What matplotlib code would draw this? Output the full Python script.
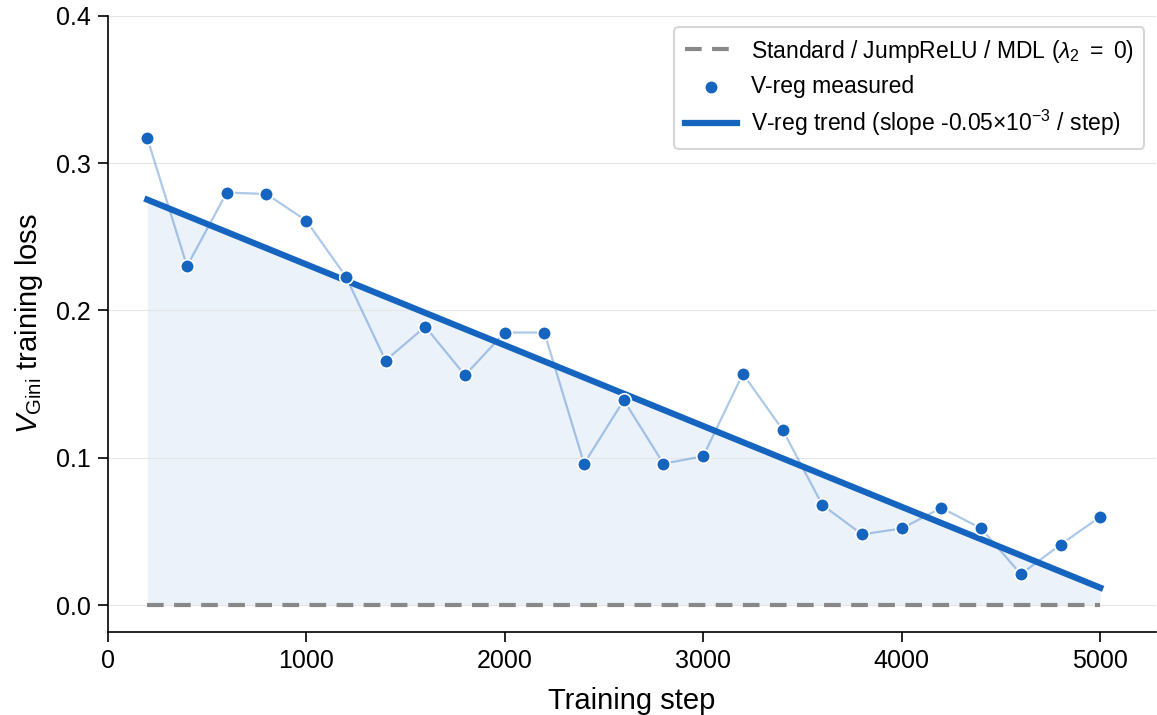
import numpy as np
import matplotlib.pyplot as plt

plt.rcParams['font.family'] = ['Liberation Sans', 'DejaVu Sans']
plt.rcParams['mathtext.fontset'] = 'custom'
plt.rcParams['mathtext.rm'] = 'Liberation Sans'
plt.rcParams['mathtext.it'] = 'Liberation Sans:italic'

# data
steps = [200, 400, 600, 800, 1000, 1200, 1400, 1600, 1800, 2000, 2200, 2400, 2600,
         2800, 3000, 3200, 3400, 3600, 3800, 4000, 4200, 4400, 4600, 4800, 5000]
vgini = [0.317, 0.230, 0.280, 0.279, 0.261, 0.223, 0.166, 0.189, 0.156, 0.185, 0.185,
         0.096, 0.139, 0.096, 0.101, 0.157, 0.119, 0.068, 0.048, 0.052, 0.066, 0.052,
         0.021, 0.041, 0.060]
baseline = [0.0] * len(steps)

blue = '#1565C0'
steps_arr = np.array(steps)
slope, intercept = np.polyfit(steps_arr, vgini, 1)
trend = slope * steps_arr + intercept

fig, ax = plt.subplots(figsize=(11.57, 7.15), dpi=100)
ax.grid(axis='y', color='#e6e6e6', linewidth=0.8, zorder=0)
ax.fill_between(steps_arr, 0, trend, color=blue, alpha=0.08, linewidth=0, zorder=1)
ax.plot(steps, baseline, color='#888888', linestyle=(0, (4, 2.5)), linewidth=3,
        label=r'Standard / JumpReLU / MDL ($\lambda_2\ =\ 0$)', zorder=2)
ax.plot(steps, vgini, color=blue, alpha=0.35, linewidth=1.6, zorder=3)
ax.scatter(steps, vgini, s=95, color=blue, edgecolor='white', linewidth=1.2,
           label='V-reg measured', zorder=5)
ax.plot(steps_arr, trend, color=blue, linewidth=4.5,
        label=r'V-reg trend (slope -%.2f$\times10^{-3}$ / step)' % (-slope * 1e3), zorder=4)

ax.set_xlim(0, 5280)
ax.set_ylim(-0.0183, 0.4)
ax.set_yticks([0.0, 0.1, 0.2, 0.3, 0.4])
ax.set_xticks([0, 1000, 2000, 3000, 4000, 5000])
ax.tick_params(labelsize=18, length=7, width=1.2, pad=5)
ax.spines['top'].set_visible(False)
ax.spines['right'].set_visible(False)
ax.spines['left'].set_linewidth(1.2)
ax.spines['bottom'].set_linewidth(1.2)
ax.set_xlabel('Training step', fontsize=21, labelpad=10)
ax.set_ylabel(r'$V_{\mathrm{Gini}}$ training loss', fontsize=21, labelpad=8)
leg = ax.legend(loc='upper right', fontsize=16.5, frameon=True, fancybox=True,
                edgecolor='#cccccc', handlelength=2.3, handletextpad=0.6,
                borderpad=0.45, labelspacing=0.45)
leg.get_frame().set_linewidth(1.5)

plt.subplots_adjust(left=0.093, right=0.999, top=0.978, bottom=0.116)
plt.savefig('out.png', dpi=100)
